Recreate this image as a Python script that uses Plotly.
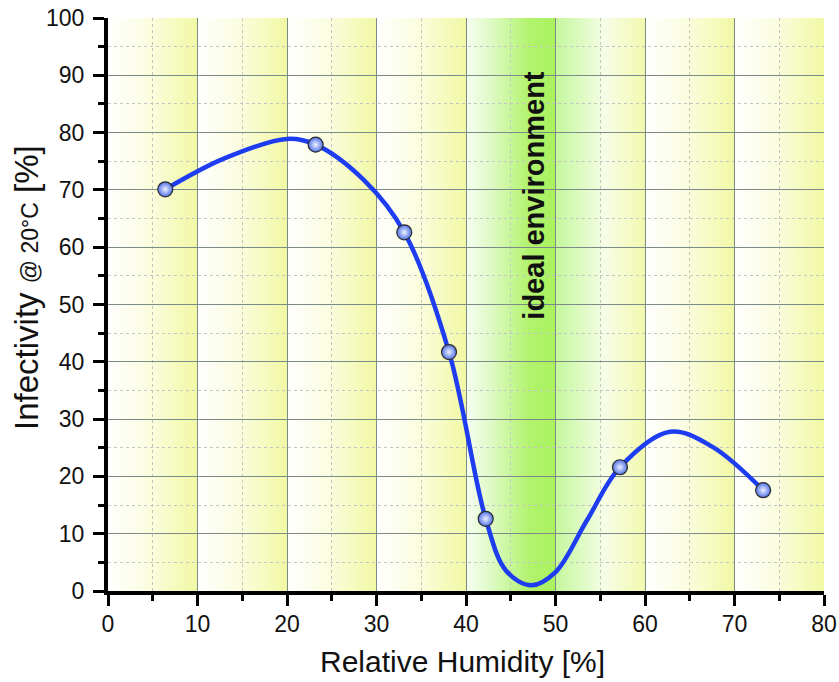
import plotly.graph_objects as go

# measured points
humidity = [6.4, 23.2, 33.1, 38.1, 42.2, 57.2, 73.2]
infectivity = [70.1, 77.9, 62.6, 41.7, 12.6, 21.6, 17.6]

# smoothed curve
curve_x = [6.4, 13, 20, 23.2, 28.6, 33.1, 38.1, 42.2, 44.5, 47.3, 50, 53.5, 57.2,
           62.8, 67.5, 73.2]
curve_y = [70.1, 75.5, 78.9, 77.9, 71.7, 62.6, 41.7, 12.6, 3.5, 1.0, 3.3, 12.3, 21.6,
           27.8, 25.2, 17.6]

x_ticks = [0, 10, 20, 30, 40, 50, 60, 70, 80]
y_ticks = [0, 10, 20, 30, 40, 50, 60, 70, 80, 90, 100]
x_grid = [10, 20, 30, 40, 50, 60, 70]
x_minor_grid = [5, 15, 25, 35, 45, 55, 65, 75]
y_grid = [10, 20, 30, 40, 50, 60, 70, 80, 90]
y_minor_grid = [5, 15, 25, 35, 45, 55, 65, 75, 85, 95]

band_edges = [0, 10, 20, 30, 40, 50, 60, 70, 80]

YELLOW = [[0, "#ffffff"], [0.45, "#fbfde0"], [1, "#f1f8a4"]]
GREEN_IN = [[0, "#f7fef2"], [0.3, "#dcfac2"], [0.7, "#b2f36e"], [1, "#a9f25e"]]
GREEN_OUT = [[0, "#c4f79c"], [0.35, "#e2fbcb"], [0.55, "#f7fde6"], [1, "#f2f9ae"]]
band_scales = [YELLOW, YELLOW, YELLOW, YELLOW, GREEN_IN, GREEN_OUT, YELLOW, YELLOW]

FONT = "Liberation Sans, Arial, sans-serif"

fig = go.Figure()

# background gradient bands live on the bottom subplot, grid and data on the one above
for x0, x1, scale in zip(band_edges[:-1], band_edges[1:], band_scales):
    fig.add_trace(go.Scatter(
        x=[x0, x1, x1, x0, x0], y=[0, 0, 100, 100, 0],
        fill="toself", mode="none", hoverinfo="skip", showlegend=False,
        fillgradient=dict(type="horizontal", colorscale=scale),
        xaxis="x", yaxis="y",
    ))

fig.add_trace(go.Scatter(
    x=curve_x, y=curve_y, mode="lines",
    line=dict(color="#1f3df0", width=4.5, shape="spline", smoothing=1.0),
    showlegend=False, xaxis="x2", yaxis="y2",
))
fig.add_trace(go.Scatter(
    x=humidity, y=infectivity, mode="markers",
    marker=dict(size=15, color="#4f70e6",
                gradient=dict(type="radial", color="#eef2ff"),
                line=dict(color="#2b2b2b", width=1.2)),
    showlegend=False, xaxis="x2", yaxis="y2",
))

fig.add_annotation(
    text="ideal environment", x=47.6, y=69.0, xref="x2", yref="y2",
    textangle=-90, showarrow=False,
    font=dict(family=FONT, size=29, color="#111111", weight="bold"),
)
fig.add_annotation(
    text="Infectivity <span style='font-size:23px'>@ 20°C</span> [%]",
    x=-0.113, y=0.529, xref="paper", yref="paper", textangle=-90,
    showarrow=False, xanchor="center", yanchor="middle",
    font=dict(family=FONT, size=33, color="#111111"),
)
fig.add_annotation(
    text="Relative Humidity [%]",
    x=0.495, y=-0.123, xref="paper", yref="paper",
    showarrow=False, xanchor="center", yanchor="middle",
    font=dict(family=FONT, size=30, color="#111111"),
)

axis_style = dict(
    domain=[0, 1], automargin=False, showgrid=False, zeroline=False,
    showline=True, linecolor="black", linewidth=4, layer="above traces",
    ticks="outside", ticklen=11, tickwidth=3, tickcolor="black",
    tickfont=dict(size=23, color="#111111"), ticklabeloverflow="allow",
    minor=dict(dtick=5, ticks="outside", ticklen=6, tickwidth=3, tickcolor="black"),
)
grid_style = dict(
    domain=[0, 1], automargin=False, showgrid=True, gridcolor="#7d8b88", gridwidth=1.4,
    zeroline=False, showline=False, ticks="", showticklabels=False,
)
minor_grid = dict(showgrid=True, gridcolor="#c4c6c4", griddash="dot", gridwidth=1, ticks="")

fig.update_layout(
    width=839, height=682,
    margin=dict(l=108, r=15, t=18, b=91),
    paper_bgcolor="white", plot_bgcolor="rgba(0,0,0,0)",
    font=dict(family=FONT, color="#111111"),
    hovermode=False,
    xaxis=dict(axis_style, range=[0, 80], tickvals=x_ticks, ticklabelstandoff=-2),
    yaxis=dict(axis_style, range=[0, 100], tickvals=y_ticks, ticklabelstandoff=4),
    xaxis2=dict(grid_style, range=[0, 80], anchor="y2", tickvals=x_grid,
                minor=dict(minor_grid, tickvals=x_minor_grid)),
    yaxis2=dict(grid_style, range=[0, 100], anchor="x2", tickvals=y_grid,
                minor=dict(minor_grid, tickvals=y_minor_grid)),
)

# drop the default 8px page margin so the figure fills the window exactly
fig.write_html(
    "out.html",
    config={"displayModeBar": False},
    post_script="document.body.style.margin='0';document.body.style.overflow='hidden';",
)
